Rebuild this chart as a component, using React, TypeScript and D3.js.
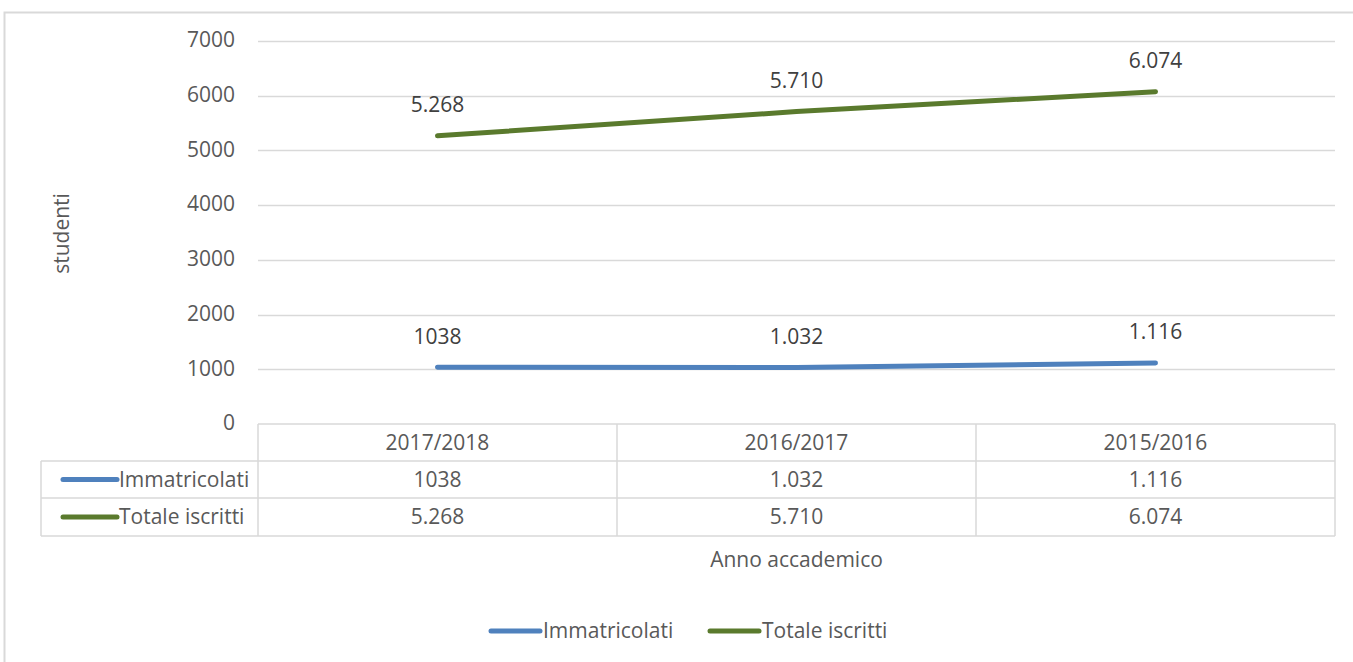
import React, {useRef, useEffect} from 'react';
import * as d3 from 'd3';

const categories = ['2017/2018', '2016/2017', '2015/2016'];
const immatricolati = [1038, 1032, 1116];
const totaleIscritti = [5268, 5710, 6074];
const immatricolatiLabels = ['1038', '1.032', '1.116'];
const totaleLabels = ['5.268', '5.710', '6.074'];
const yTicks = [0, 1000, 2000, 3000, 4000, 5000, 6000, 7000];

const series = [
    {name: 'Immatricolati', values: immatricolati, labels: immatricolatiLabels, color: '#4F81BD'},
    {name: 'Totale iscritti', values: totaleIscritti, labels: totaleLabels, color: '#5A7A2D'},
];

const W = 1353;
const H = 662;
const FONT = '"Open Sans", sans-serif';
const FS = '21px';
const TEXT = '#595959';
const GRID = '#d9d9d9';

const App: React.FC = () => {
    const svgRef = useRef<SVGSVGElement>(null);

    useEffect(() => {
        if (!svgRef.current) return;
        const svg = d3.select(svgRef.current);
        svg.selectAll('*').remove();

        const left = 258, right = 1335, top = 41, bottom = 424;
        const tableLeft = 41;
        const rowBottoms = [461, 498, 536];

        const x = d3.scaleBand().domain(categories).range([left, right]);
        const y = d3.scaleLinear().domain([0, 7000]).range([bottom, top]);

        // 外框
        svg.append('path')
            .attr('d', `M4.5,${H} V12.5 H${W}`)
            .attr('fill', 'none').attr('stroke', GRID).attr('stroke-width', 2);

        // 網格線
        svg.append('g').selectAll('line').data(yTicks.slice(1)).join('line')
            .attr('x1', left).attr('x2', right)
            .attr('y1', d => Math.round(y(d)) + 0.5).attr('y2', d => Math.round(y(d)) + 0.5)
            .attr('stroke', GRID).attr('stroke-width', 1.5);

        // y 刻度標籤
        svg.append('g').selectAll('text').data(yTicks).join('text')
            .attr('x', 235).attr('y', d => y(d) - 1)
            .attr('dy', '0.35em').attr('text-anchor', 'end')
            .style('font-family', FONT).style('font-size', FS).style('fill', TEXT)
            .text(d => d);

        // y 軸標題
        svg.append('text')
            .attr('transform', `translate(69,${(top + bottom) / 2 + 1}) rotate(-90)`)
            .attr('text-anchor', 'middle')
            .style('font-family', FONT).style('font-size', FS).style('fill', TEXT)
            .text('studenti');

        // 資料表格
        const tg = svg.append('g').attr('stroke', GRID).attr('stroke-width', 1.5).attr('fill', 'none');
        tg.append('line').attr('x1', left).attr('x2', right).attr('y1', bottom).attr('y2', bottom);
        rowBottoms.forEach(yy => {
            tg.append('line').attr('x1', tableLeft).attr('x2', right).attr('y1', yy).attr('y2', yy);
        });
        [left, ...categories.map(c => (x(c) as number) + x.bandwidth())].forEach(xx => {
            tg.append('line').attr('x1', xx).attr('x2', xx).attr('y1', bottom).attr('y2', rowBottoms[2]);
        });
        tg.append('line').attr('x1', tableLeft).attr('x2', tableLeft).attr('y1', rowBottoms[0]).attr('y2', rowBottoms[2]);

        const cx = (c: string) => (x(c) as number) + x.bandwidth() / 2;

        svg.append('g').selectAll('text').data(categories).join('text')
            .attr('x', d => cx(d)).attr('y', (bottom + rowBottoms[0]) / 2)
            .attr('dy', '0.35em').attr('text-anchor', 'middle')
            .style('font-family', FONT).style('font-size', FS).style('fill', TEXT)
            .text(d => d);

        series.forEach((s, si) => {
            const rowMid = (rowBottoms[si] + rowBottoms[si + 1]) / 2;
            svg.append('line')
                .attr('x1', 63).attr('x2', 117).attr('y1', rowMid).attr('y2', rowMid)
                .attr('stroke', s.color).attr('stroke-width', 5).attr('stroke-linecap', 'round');
            svg.append('text')
                .attr('x', 119).attr('y', rowMid).attr('dy', '0.35em')
                .style('font-family', FONT).style('font-size', FS).style('fill', TEXT)
                .text(s.name);
            svg.append('g').selectAll('text').data(s.labels).join('text')
                .attr('x', (d, i) => cx(categories[i])).attr('y', rowMid)
                .attr('dy', '0.35em').attr('text-anchor', 'middle')
                .style('font-family', FONT).style('font-size', FS).style('fill', TEXT)
                .text(d => d);

            const line = d3.line<number>()
                .x((d, i) => cx(categories[i]))
                .y(d => y(d));
            svg.append('path')
                .datum(s.values)
                .attr('d', line)
                .attr('fill', 'none').attr('stroke', s.color)
                .attr('stroke-width', 5).attr('stroke-linecap', 'round').attr('stroke-linejoin', 'round');

            // 數據標籤
            svg.append('g').selectAll('text').data(s.values).join('text')
                .attr('x', (d, i) => cx(categories[i])).attr('y', d => y(d) - 31)
                .attr('dy', '0.35em').attr('text-anchor', 'middle')
                .style('font-family', FONT).style('font-size', FS).style('fill', '#404040')
                .text((d, i) => s.labels[i]);
        });

        svg.append('text')
            .attr('x', (left + right) / 2).attr('y', 560).attr('dy', '0.35em')
            .attr('text-anchor', 'middle')
            .style('font-family', FONT).style('font-size', FS).style('fill', TEXT)
            .text('Anno accademico');

        // 圖例
        const legendItems = [
            {s: series[0], x: 488},
            {s: series[1], x: 707},
        ];
        legendItems.forEach(({s, x: lx}) => {
            svg.append('line')
                .attr('x1', lx + 3).attr('x2', lx + 52).attr('y1', 631).attr('y2', 631)
                .attr('stroke', s.color).attr('stroke-width', 5).attr('stroke-linecap', 'round');
            svg.append('text')
                .attr('x', lx + 55).attr('y', 631).attr('dy', '0.35em')
                .style('font-family', FONT).style('font-size', FS).style('fill', TEXT)
                .text(s.name);
        });
    }, []);

    return (
        <svg ref={svgRef} width={W} height={H} viewBox={`0 0 ${W} ${H}`}
             style={{position: 'absolute', left: 0, top: 0, background: '#fff'}}/>
    );
};

export default App;
